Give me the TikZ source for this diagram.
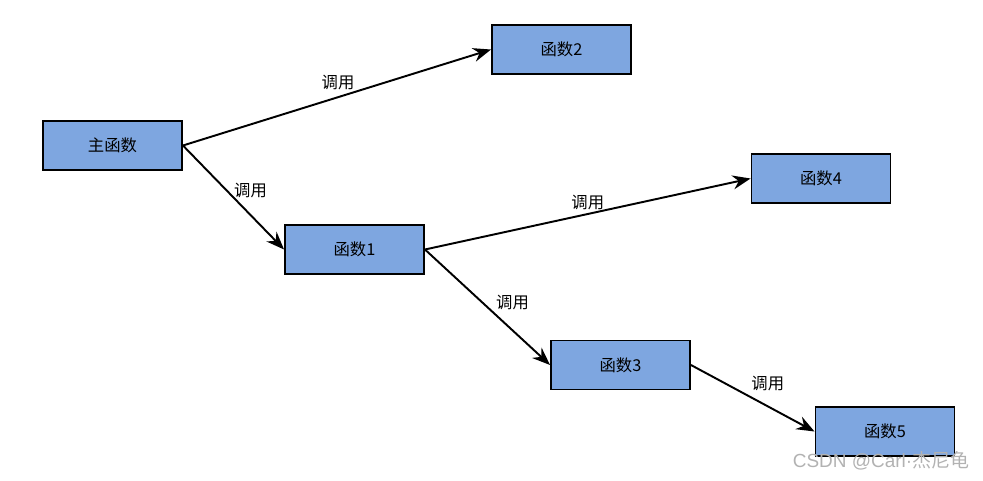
\documentclass[tikz,border=0pt]{standalone}
\usepackage{fontspec}
\newfontfamily\cjk{Noto Sans CJK SC}
\usetikzlibrary{positioning}
\usetikzlibrary{arrows.meta}
\definecolor{boxblue}{HTML}{7EA6E0}
\tikzset{
    fnbox/.style = {rectangle, line width=1.1pt, draw=black, fill=boxblue, minimum width=2.78cm, minimum height=0.98cm, align=center, font=\cjk\fontsize{9.3}{11}\selectfont, text=black},
    calledge/.style = {-{Stealth[length=3.6mm, width=2.8mm, inset=1.2mm]}, line width=1.1pt, black},
    lbl/.style = {font=\cjk\fontsize{9.3}{11}\selectfont, text=black, inner sep=1pt},
    wmark/.style = {font=\fontspec{Liberation Sans}\fontsize{10.8}{12}\selectfont, text=gray!60}
}
\begin{document}
\begin{tikzpicture}[x=0.02cm, y=-0.02cm]
\useasboundingbox (0,0) rectangle (983,480);

\node[fnbox] at (112.5, 145.5) (main) {主函数};
\node[fnbox] at (561.5,  49.5) (f2) {函数2};
\node[fnbox] at (354.5, 249.5) (f1) {函数1};
\node[fnbox] at (821.0, 178.5) (f4) {函数4};
\node[fnbox] at (620.5, 365.0) (f3) {函数3};
\node[fnbox] at (885.0, 431.5) (f5) {函数5};

\draw[calledge] (main.east) -- node[lbl, shift={(1,-15)}] (l1) {调用} (f2.west);
\draw[calledge] (main.east) -- node[lbl, shift={(17,-7)}] (l2) {调用} (f1.west);
\draw[calledge] (f1.east) -- node[lbl, shift={(0,-11)}] (l3) {调用} (f4.west);
\draw[calledge] (f1.east) -- node[lbl, shift={(25,-5)}] (l4) {调用} (f3.west);
\draw[calledge] (f3.east) -- node[lbl, shift={(15,-15)}] (l5) {调用} (f5.west);

% watermark
\node[wmark] at (881, 461) (wm) {CSDN @Carl·{\cjk 杰尼龟}};

\end{tikzpicture}
\end{document}
